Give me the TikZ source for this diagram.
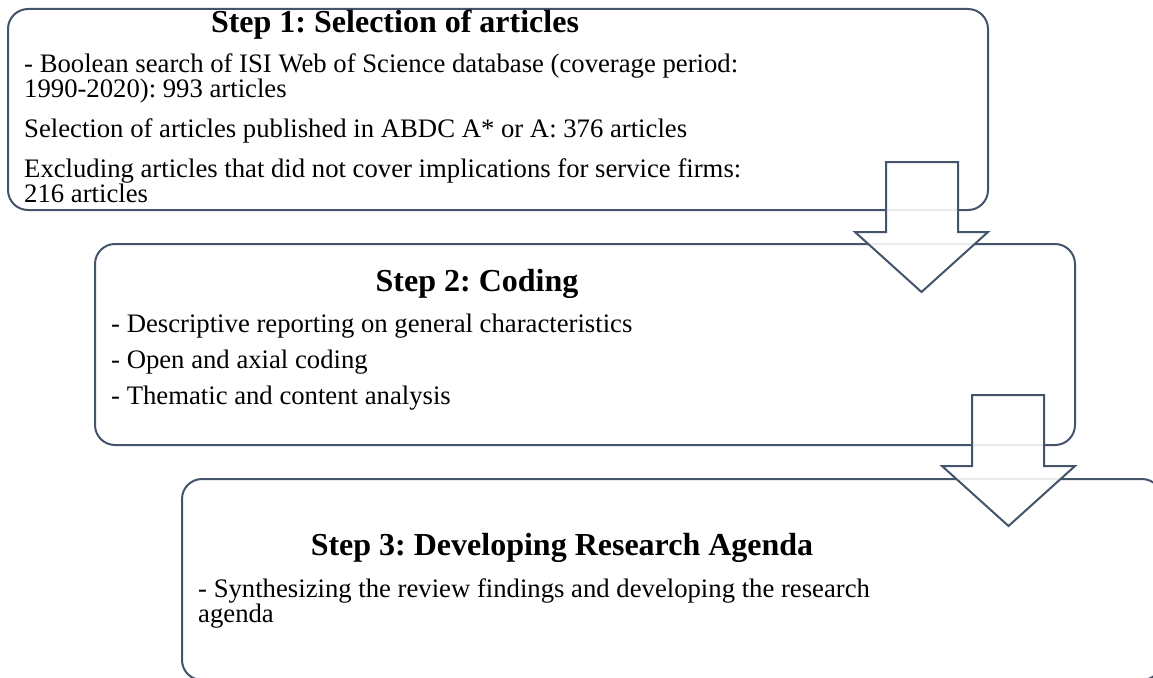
\documentclass[tikz,border=0pt]{standalone}
\usepackage{fontspec}
\setmainfont{Liberation Serif}
\frenchspacing
\definecolor{edgecol}{HTML}{44546A}
\begin{document}
\begin{tikzpicture}[x=1pt,y=-1pt,
  stepbox/.style={draw=edgecol, line width=2pt, rounded corners=20pt, fill=white,
    minimum width=980pt, minimum height=201pt, anchor=north west, inner sep=0pt},
  ttl/.style={font=\fontsize{32}{36}\selectfont\bfseries, anchor=base, inner sep=0pt},
  bod/.style={font=\fontsize{26.7}{30}\selectfont, anchor=base west, inner sep=0pt},
  blockarrow/.style={draw=edgecol, line width=2pt, fill=white, fill opacity=0.88, line join=miter}]
\useasboundingbox (0,0) rectangle (1153,677);
\clip (0,0) rectangle (1153,677);
% boxes
\node[stepbox] (b1) at (7,8) {};
\node[stepbox] (b2) at (94,243) {};
\node[stepbox] (b3) at (181,478) {};
% box 1 text
\node[ttl] (t1) at (395,33) {Step 1: Selection of articles};
\node[bod] (l11) at (24,72) {- Boolean search of ISI Web of Science database (coverage period:};
\node[bod] (l12) at (24,97) {1990-2020): 993 articles};
\node[bod] (l13) at (24,137) {Selection of articles published in ABDC A* or A: 376 articles};
\node[bod] (l14) at (24,177) {Excluding articles that did not cover implications for service firms:};
\node[bod] (l15) at (24,202) {216 articles};
% box 2 text
\node[ttl] (t2) at (477,291) {Step 2: Coding};
\node[bod] (l21) at (111,332) {- Descriptive reporting on general characteristics};
\node[bod] (l22) at (111,368) {- Open and axial coding};
\node[bod] (l23) at (111,404) {- Thematic and content analysis};
% box 3 text
\node[ttl] (t3) at (562,555) {Step 3: Developing Research Agenda};
\node[bod] (l31) at (198,597) {- Synthesizing the review findings and developing the research};
\node[bod] (l32) at (198,622) {agenda};
% arrows
\draw[blockarrow] (886,162) -- (958,162) -- (958,232) -- (988,232) -- (921.5,292)
  -- (855,232) -- (886,232) -- cycle;
\draw[blockarrow] (972,395) -- (1044,395) -- (1044,466) -- (1075,466) -- (1008.5,526)
  -- (942,466) -- (972,466) -- cycle;
\end{tikzpicture}
\end{document}
